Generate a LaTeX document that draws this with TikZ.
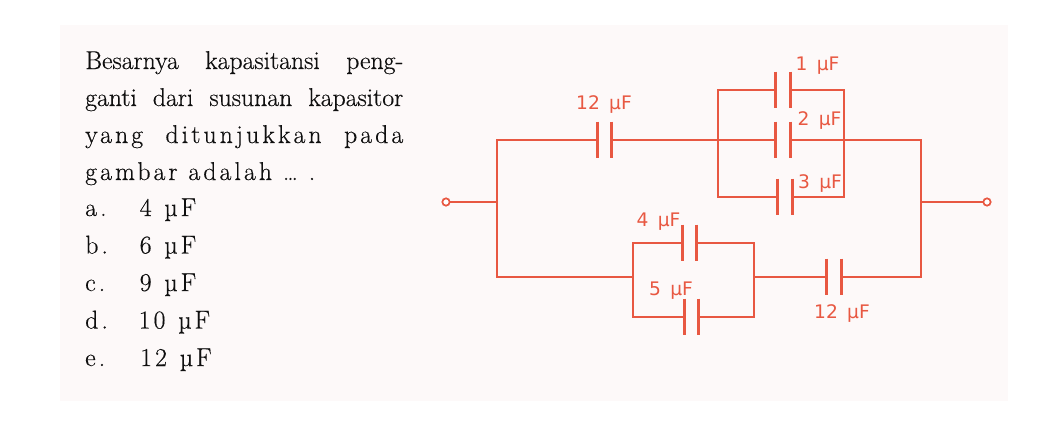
\documentclass[tikz,border=0pt]{standalone}
\usepackage{fontspec}
\newfontfamily\labfont{DejaVu Sans}
\newfontfamily\txtfont{Latin Modern Roman}[FakeBold=0.4]
\newfontfamily\txtfontls{Latin Modern Roman}[LetterSpace=12,FakeBold=0.4]
\definecolor{cir}{RGB}{232,88,66}
\definecolor{panel}{RGB}{253,249,249}
\definecolor{ink}{RGB}{15,15,15}
\tikzset{
  wire/.style={draw=cir, line width=1.9pt, line cap=rect},
  plate/.style={draw=cir, line width=2.1pt},
  capbox/.style={rectangle, inner sep=0pt, minimum width=10.5pt, minimum height=27pt},
  term/.style={circle, draw=cir, fill=white, line width=1.3pt, inner sep=0pt, minimum size=5.5pt},
  lab/.style={text=cir, font=\labfont\fontsize{14}{16}\selectfont, anchor=base, inner sep=0pt},
  txt/.style={text=ink, font=\txtfont\fontsize{19.3}{22}\selectfont, anchor=base west, inner sep=0pt},
  txtls/.style={text=ink, font=\txtfontls\fontsize{19.3}{22}\selectfont, anchor=base west, inner sep=0pt}
}
\begin{document}
\begin{tikzpicture}[x=0.75pt,y=-0.75pt]
\useasboundingbox (0,0) rectangle (1050,446);
\fill[white] (0,0) rectangle (1050,446);
\fill[panel] (60,25) rectangle (1008,401);

% text
\node[txt] (t1) at (85,69) {\makebox[238.5pt][s]{Besarnya kapasitansi peng-}};
\node[txt] (t2) at (85,106) {\makebox[238.5pt][s]{ganti dari susunan kapasitor}};
\node[txtls] (t3) at (85,143) {\makebox[238.5pt][s]{yang ditunjukkan pada}};
\node[txtls] (t4) at (85,180) {gambar adalah \dots{} .};
\node[txtls] (oa) at (85,216) {a.};
\node[txtls] (va) at (139.5,216) {4\hspace{0.5em}µF};
\node[txtls] (ob) at (85,253.5) {b.};
\node[txtls] (vb) at (139.5,253.5) {6\hspace{0.5em}µF};
\node[txtls] (oc) at (85,291) {c.};
\node[txtls] (vc) at (139.5,291) {9\hspace{0.5em}µF};
\node[txtls] (od) at (85,328.5) {d.};
\node[txtls] (vd) at (138.5,328.5) {10\hspace{0.5em}µF};
\node[txtls] (oe) at (85,366) {e.};
\node[txtls] (ve) at (140,366) {12\hspace{0.5em}µF};

% junction coordinates
\coordinate (jl) at (497,202);
\coordinate (jlt) at (497,140);
\coordinate (jlb) at (497,277);
\coordinate (jr) at (921,202);
\coordinate (jrt) at (921,140);
\coordinate (jrb) at (921,277);
\coordinate (pl) at (718,140);
\coordinate (pr) at (844,140);
\coordinate (plt) at (718,90);
\coordinate (prt) at (844,90);
\coordinate (plb) at (718,197);
\coordinate (prb) at (844,197);
\coordinate (ql) at (633,277);
\coordinate (qr) at (754,277);
\coordinate (qlt) at (633,243);
\coordinate (qrt) at (754,243);
\coordinate (qlb) at (633,317);
\coordinate (qrb) at (754,317);

% capacitors
\node[capbox] (c12a) at (604.5,140) {};
\node[capbox] (c1) at (783,90) {};
\node[capbox] (c2) at (783,140) {};
\node[capbox] (c3) at (785,197) {};
\node[capbox] (c4) at (689.5,243) {};
\node[capbox] (c5) at (691.5,317) {};
\node[capbox] (c12b) at (834,277) {};
\foreach \c in {c12a,c1,c2,c3,c4,c5,c12b}{
  \draw[plate] (\c.north west) -- (\c.south west);
  \draw[plate] (\c.north east) -- (\c.south east);
}

% terminals
\node[term] (tl) at (446,202) {};
\node[term] (tr) at (987,202) {};

% wires
\draw[wire] (tl) -- (jl);
\draw[wire] (jr) -- (tr);
\draw[wire] (jlb) -- (jlt) -- (c12a.west);
\draw[wire] (c12a.east) -- (pl);
\draw[wire] (plt) -- (plb);
\draw[wire] (prt) -- (prb);
\draw[wire] (plt) -- (c1.west);
\draw[wire] (c1.east) -- (prt);
\draw[wire] (pl) -- (c2.west);
\draw[wire] (c2.east) -- (pr) -- (jrt) -- (jrb) -- (c12b.east);
\draw[wire] (plb) -- (c3.west);
\draw[wire] (c3.east) -- (prb);
\draw[wire] (c12b.west) -- (qr);
\draw[wire] (jlb) -- (ql);
\draw[wire] (qlt) -- (qlb);
\draw[wire] (qrt) -- (qrb);
\draw[wire] (qlt) -- (c4.west);
\draw[wire] (c4.east) -- (qrt);
\draw[wire] (qlb) -- (c5.west);
\draw[wire] (c5.east) -- (qrb);

% labels
\node[lab] (l12a) at (604,109.5) {12\hspace{7pt}µF};
\node[lab] (l1) at (817.5,70.5) {1\hspace{7pt}µF};
\node[lab] (l2) at (819.5,125) {2\hspace{7pt}µF};
\node[lab] (l3) at (820,188) {3\hspace{7pt}µF};
\node[lab] (l4) at (658.5,226.5) {4\hspace{7pt}µF};
\node[lab] (l5) at (671,295) {5\hspace{7pt}µF};
\node[lab] (l12b) at (842,318) {12\hspace{7pt}µF};
\end{tikzpicture}
\end{document}
